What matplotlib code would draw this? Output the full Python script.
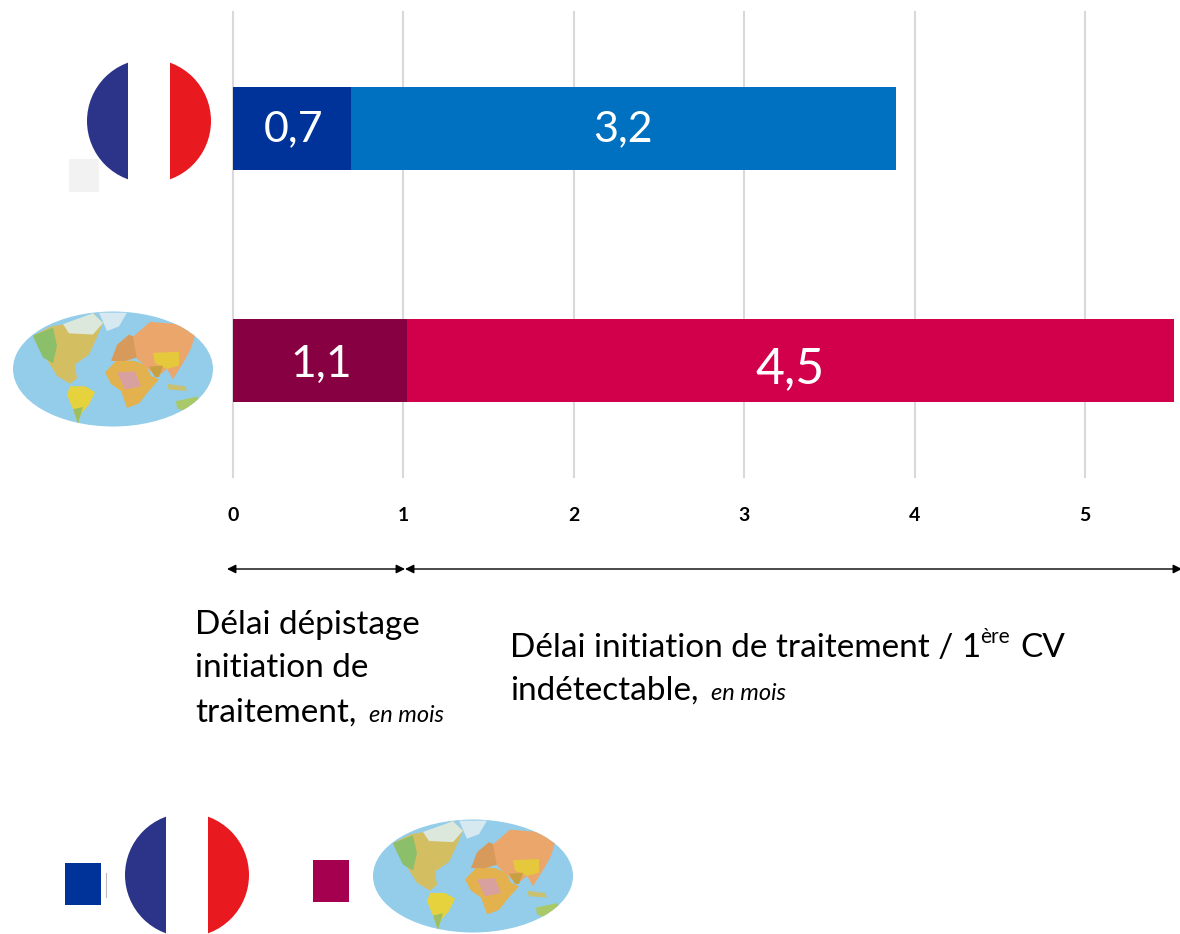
import matplotlib
matplotlib.use("Agg")
import matplotlib.pyplot as plt
from matplotlib.patches import Circle, Ellipse, Polygon, Rectangle

plt.rcParams['font.family'] = ['Lato', 'DejaVu Sans']

WIDTH = 1180
HEIGHT = 934

# bars, bottom one first
groups = ["Monde", "France"]
first_delay = [1.02, 0.69]
second_delay = [4.5, 3.2]
first_labels = ["1,1", "0,7"]
second_labels = ["4,5", "3,2"]
first_colors = ["#870041", "#003399"]
second_colors = ["#D2004B", "#0070C0"]
ticks = [0, 1, 2, 3, 4, 5]

FRANCE_BLUE = "#2B3489"
FRANCE_RED = "#E8191F"

# rough continents, in ellipse coordinates (-1..1)
north_america = [(-.8, .58), (-.62, .74), (-.34, .82), (-.2, .97), (-.1, .8), (-.16, .55), (-.24, .25),
                 (-.38, .08), (-.36, -.16), (-.43, -.26), (-.56, -.12), (-.66, .16), (-.76, .42)]
na_west = [(-.8, .58), (-.6, .72), (-.56, .4), (-.6, .1), (-.7, .2), (-.76, .42)]
na_north = [(-.5, .78), (-.2, .97), (-.1, .8), (-.2, .6), (-.44, .62)]
greenland = [(-.14, .98), (.14, .98), (.06, .74), (-.06, .66)]
south_america = [(-.43, -.3), (-.28, -.3), (-.18, -.4), (-.24, -.62), (-.32, -.78),
                 (-.35, -.95), (-.4, -.7), (-.46, -.45)]
sa_south = [(-.3, -.66), (-.35, -.95), (-.4, -.7)]
africa = [(-.08, -.06), (.04, .16), (.22, .14), (.33, .06), (.38, -.12), (.46, -.18), (.34, -.42),
          (.26, -.6), (.14, -.68), (.08, -.38), (-.02, -.26)]
africa_mid = [(.04, -.06), (.22, -.04), (.28, -.3), (.12, -.36)]
europe = [(-.02, .14), (.04, .42), (.16, .6), (.28, .5), (.24, .2), (.12, .14)]
asia = [(.2, .56), (.37, .82), (.66, .78), (.82, .58), (.78, .36), (.72, .16), (.6, -.18),
        (.54, .0), (.44, -.14), (.34, .02), (.24, .18)]
china = [(.4, .28), (.66, .3), (.66, .06), (.54, .0), (.42, .1)]
india = [(.36, .04), (.5, .06), (.46, -.14), (.42, -.14)]
indonesia = [(.54, -.26), (.72, -.3), (.74, -.38), (.56, -.36)]
australia = [(.63, -.56), (.84, -.48), (.9, -.62), (.76, -.76), (.64, -.68)]
land = [(north_america, "#D4BE62"), (na_west, "#8CBF6A"), (na_north, "#DCE8DC"), (greenland, "#D6E8F0"),
        (south_america, "#E6D23C"), (sa_south, "#9CBF62"), (africa, "#E3B24E"), (africa_mid, "#D9A0A0"),
        (europe, "#D89A5A"), (asia, "#EBA66C"), (china, "#E6C83C"), (india, "#C9A040"),
        (indonesia, "#C9C070"), (australia, "#A9C867")]


def draw_flag(ax, cx, cy, r):
    clip = Circle((cx, cy), r, transform=ax.transData)
    for x0, w, c in [(cx - r, r * 2 / 3, FRANCE_BLUE), (cx - r / 3, r * 2 / 3, "white"),
                     (cx + r / 3, r * 2 / 3, FRANCE_RED)]:
        p = ax.add_patch(Rectangle((x0, cy - r), w, 2 * r, color=c, lw=0))
        p.set_clip_path(clip)


def draw_world(ax, cx, cy, w, h):
    sea = Ellipse((cx, cy), w, h, color="#93CDEA", lw=0)
    ax.add_patch(sea)
    for shape, c in land:
        pts = [(cx + x * w / 2, cy - y * h / 2) for x, y in shape]
        p = ax.add_patch(Polygon(pts, closed=True, color=c, lw=0))
        p.set_clip_path(sea)


fig = plt.figure(figsize=(WIDTH / 100, HEIGHT / 100), dpi=100)

# main chart: x=0 at 233 px, 170.4 px per month
ax = fig.add_axes([233 / WIDTH, 1 - 477 / HEIGHT, (WIDTH - 233) / WIDTH, 465 / HEIGHT])
ax.set_xlim(0, (WIDTH - 233) / 170.4)
ax.set_ylim(-0.5, 1.5)
ax.barh(range(2), first_delay, height=0.355, color=first_colors, zorder=3)
ax.barh(range(2), second_delay, left=first_delay, height=0.355, color=second_colors, zorder=3)

ax.text(first_delay[1] / 2 + 0.01, 0.995, first_labels[1], color="white", ha="center", va="center", fontsize=31, zorder=4)
ax.text(first_delay[1] + second_delay[1] / 2, 0.995, second_labels[1], color="white", ha="center", va="center", fontsize=31, zorder=4)
ax.text(first_delay[0] / 2 + 0.01, -0.016, first_labels[0], color="white", ha="center", va="center", fontsize=32, zorder=4)
ax.text(first_delay[0] + second_delay[0] / 2, -0.036, second_labels[0], color="white", ha="center", va="center", fontsize=36, zorder=4)

ax.set_xticks(ticks)
ax.set_yticks([])
ax.grid(axis="x", color="#D9D9D9", lw=1.5, zorder=0)
for g in ax.get_xgridlines():
    g.set_clip_on(False)
ax.tick_params(axis="x", length=0, pad=21.5, labelsize=14)
for t in ax.get_xticklabels():
    t.set_fontweight("bold")
for s in ax.spines.values():
    s.set_visible(False)

# overlay in pixels for the pictures, arrows and notes
ov = fig.add_axes([0, 0, 1, 1], zorder=5)
ov.set_xlim(0, WIDTH)
ov.set_ylim(HEIGHT, 0)
ov.axis("off")
ov.patch.set_alpha(0)

ov.add_patch(Rectangle((69, 159), 30, 33, color="#F2F2F2", lw=0))
draw_flag(ov, 149, 121, 62)
draw_world(ov, 113, 369, 200, 115)

for x0, x1 in [(227, 405), (405, 1182)]:
    ov.annotate("", xy=(x0, 569), xytext=(x1, 569),
                arrowprops=dict(arrowstyle="<|-|>", color="black", lw=1, mutation_scale=13,
                                shrinkA=0, shrinkB=0))

MAIN = 24
SMALL = 17
ov.text(195, 634, "Délai dépistage", fontsize=MAIN, va="baseline")
ov.text(195, 677, "initiation de", fontsize=MAIN, va="baseline")
ov.text(195, 722, "traitement,", fontsize=MAIN, va="baseline")
ov.text(369, 722, "en mois", fontsize=SMALL, style="italic", va="baseline")
ov.text(510, 657, "Délai initiation de traitement / 1", fontsize=MAIN, va="baseline")
ov.text(980, 643, "ère", fontsize=15, va="baseline")
ov.text(1020, 657, "CV", fontsize=MAIN, va="baseline")
ov.text(510, 700, "indétectable,", fontsize=MAIN, va="baseline")
ov.text(711, 700, "en mois", fontsize=SMALL, style="italic", va="baseline")

# legend
ov.add_patch(Rectangle((65, 863), 36, 42, color="#003399", lw=0))
ov.plot([106, 106], [873, 897], color="#BBBBBB", lw=0.8)
draw_flag(ov, 187, 875, 62)
ov.add_patch(Rectangle((313, 860), 36, 42, color="#A50050", lw=0))
draw_world(ov, 473, 876, 200, 113)

fig.savefig("out.png", dpi=100)
